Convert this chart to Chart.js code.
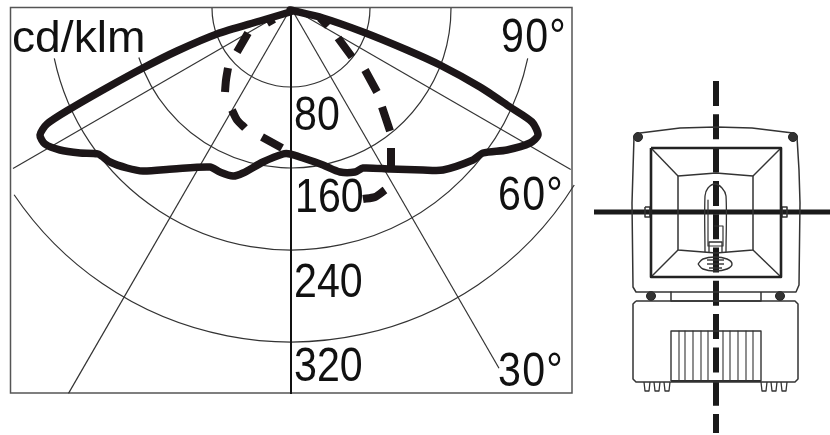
<!DOCTYPE html>
<html>
<head>
<meta charset="utf-8">
<title>cd/klm</title>
<script src="https://cdn.jsdelivr.net/npm/chart.js@4/dist/chart.umd.min.js"></script>
<style>
  html, body { margin: 0; padding: 0; background: #fff; }
  canvas { display: block; }
</style>
</head>
<body>
<canvas id="polarChart" width="830" height="435"></canvas>
<script>
// values, lamp at 0,0, y grows downwards
const solidX = [-1,-31,-74,-114,-148,-181,-221,-244,-251,-246,-231,-211,-193,-181,-164,-148,-118,-81,-71,-58,-48,-28,-8,-1,12,32,49,64,72,99,132,152,182,192,216,239,247,241,219,189,149,116,72,32,-1];
const solidY = [4,13,26,43,60,78,101,116,127,136,142,145,146,154,160,163,161,159,164,168,165,154,146,146,150,157,164,164,160,161,162,162,152,145,142,135,127,114,99,79,57,42,24,10,2];

// dashed curve, null = gap between two dashes
const dashedX = [-24,-17,null,-43,-54,null,-63,-65,-66,null,-59,-54,-46,null,-29,-9,null,29,37,null,47,61,null,74,86,null,91,99,null,100,100,null,94,84,72];
const dashedY = [15,11,null,25,44,null,60,72,84,null,102,112,120,null,129,140,null,10,18,null,30,49,null,62,84,null,99,123,null,140,159,null,182,189,191];

const ringRadii = [79, 160, 242, 334];
const ringStart = [180, 162, 168, 146];  // degrees, 0 = right, measured downwards
const ringEnd = [0, 0, 12, 32];
const rayAngles = [-60, -30, 0, 30, 60];  // from straight down
const rayLengths = [321, 445, 386, 416, 323];

const labelTexts = ['80', '160', '240', '320', '90°', '60°', '30°'];
const labelX = [294, 295, 294, 294, 501, 498, 498];
const labelY = [130, 212, 297, 381, 52, 210, 386];

// luminaire drawing, picture coordinates
const housing = [[640,133],[680,128],[716,127],[752,128],[793,133],[797,137],[799,170],[800,203],[799,285],[796,292],[636,292],[633,287],[632,203],[633,170],[634,137],[640,133]];
const reflector = [[651,148],[781,148],[781,277],[651,277],[651,148]];
const inner = [[678,176],[716,173],[753,176],[753,250],[716,253],[678,250],[678,176]];
const diagA = [[651,148],[678,176]];
const diagB = [[781,148],[753,176]];
const diagC = [[651,277],[678,250]];
const diagD = [[781,277],[753,250]];
const capsule = [[705,252],[705,196],[708,188],[715,184],[722,188],[726,196],[726,252]];
const burner = [[708,200],[708,246],[723,246],[723,226],[714,226]];
const bulbBase = [[709,252],[709,242],[722,242],[722,252]];
const socket = [[698,264],[703,259],[715,257],[727,259],[732,264],[727,269],[715,271],[703,269],[698,264]];
const coilA = [[707,260],[724,260]];
const coilB = [[707,264],[724,264]];
const coilC = [[709,268],[722,268]];
const tabLeft = [[645,207],[650,207],[650,217],[645,217],[645,207]];
const tabRight = [[782,207],[787,207],[787,217],[782,217],[782,207]];
const neck = [[671,292],[671,301],[761,301],[761,292]];
const box = [[636,301],[795,301],[798,304],[798,379],[795,382],[636,382],[633,379],[633,304],[636,301]];
const fins = [[671,381],[671,331],[761,331],[761,381],[671,381]];
const finLines = [679,685,693,701,708,723,730,738,746,753];
const feet = [647,657,667,764,774,784];
const screws = [[638,137],[793,137],[651,296],[780,296]];
const axisV = [[716,81],[716,433]];
const axisH = [[594,212],[830,212]];

function zip(xs, ys) {
  return xs.map((x, i) => ({ x: x, y: ys[i] }));
}

function picto(points, width, color, tension) {
  return {
    data: points.map(p => ({ x: p[0], y: p[1] })),
    xAxisID: 'px', yAxisID: 'py',
    showLine: true, pointRadius: 0,
    borderColor: color || '#333', borderWidth: width,
    borderJoinStyle: 'round', tension: tension || 0
  };
}

const pictoSets = [
  picto(housing, 1.5), picto(reflector, 2.6, '#222'), picto(inner, 1.5),
  picto(diagA, 1.4), picto(diagB, 1.4), picto(diagC, 1.4), picto(diagD, 1.4),
  picto(capsule, 1.3, '#333', 0.3), picto(burner, 1.2), picto(bulbBase, 1.3),
  picto(socket, 1.4, '#333', 0.4), picto(coilA, 1.4), picto(coilB, 1.4), picto(coilC, 1.4),
  picto(tabLeft, 1.5), picto(tabRight, 1.5),
  picto(neck, 1.5), picto(box, 1.5), picto(fins, 1.4)
];
finLines.forEach(x => pictoSets.push(picto([[x,331],[x,381]], 1.1)));
feet.forEach(x => pictoSets.push(picto([[x-3,382],[x-2,391],[x+2,391],[x+3,382]], 1.3)));
pictoSets.push(picto([[671,381],[761,381]], 2.2, '#222'));

const screwSet = {
  data: screws.map(p => ({ x: p[0], y: p[1] })),
  xAxisID: 'px', yAxisID: 'py',
  showLine: false, pointRadius: 4.5, pointBackgroundColor: '#333', pointBorderColor: '#222'
};

const axisVSet = picto(axisV, 6, '#1a1a1a');
axisVSet.borderDash = [25, 8.3];
axisVSet.borderCapStyle = 'butt';
const axisHSet = picto(axisH, 5, '#1a1a1a');

// frame, rings and rays sit behind the curves
const gridPlugin = {
  id: 'polarGrid',
  beforeDatasetsDraw(chart) {
    const ctx = chart.ctx;
    const xs = chart.scales.x, ys = chart.scales.y;
    const cx = xs.getPixelForValue(0), cy = ys.getPixelForValue(0);
    ctx.save();
    ctx.strokeStyle = '#555';
    ctx.lineWidth = 1.5;
    ctx.strokeRect(xs.getPixelForValue(-280.5), ys.getPixelForValue(0) - 0.5, 561.5, 385.5);

    ctx.strokeStyle = '#333';
    ctx.lineWidth = 1.2;
    ringRadii.forEach((r, i) => {
      const rad = xs.getPixelForValue(r) - cx;
      ctx.beginPath();
      ctx.arc(cx, cy, rad, ringStart[i] * Math.PI / 180, ringEnd[i] * Math.PI / 180, true);
      ctx.stroke();
    });
    rayAngles.forEach((a, i) => {
      const t = a * Math.PI / 180;
      ctx.beginPath();
      ctx.moveTo(cx, cy);
      ctx.lineTo(xs.getPixelForValue(rayLengths[i] * Math.sin(t)), ys.getPixelForValue(rayLengths[i] * Math.cos(t)));
      ctx.lineWidth = a === 0 ? 2 : 1.2;
      ctx.strokeStyle = a === 0 ? '#111' : '#333';
      ctx.stroke();
    });
    ctx.restore();
  },
  afterDatasetsDraw(chart) {
    const ctx = chart.ctx;
    ctx.save();
    ctx.fillStyle = '#111';
    ctx.textBaseline = 'alphabetic';
    ctx.textAlign = 'left';
    ctx.font = '44px "Liberation Sans"';
    ctx.save();
    ctx.translate(12, 52);
    ctx.scale(1.05, 1);
    ctx.fillText('cd/klm', 0, 0);
    ctx.restore();
    ctx.font = '49px "Liberation Sans"';
    labelTexts.forEach((t, i) => {
      ctx.save();
      ctx.translate(labelX[i], labelY[i]);
      ctx.scale(0.84, 1);
      ctx.letterSpacing = t.endsWith('°') ? '1.5px' : '0px';
      ctx.fillText(t, 0, 0);
      ctx.restore();
    });
    ctx.restore();
  }
};

const ctx = document.getElementById('polarChart').getContext('2d');
const polarChart = new Chart(ctx, {
  type: 'scatter',
  data: {
    datasets: [
      {
        label: 'C0',
        data: zip(solidX, solidY),
        showLine: true, pointRadius: 0,
        borderColor: '#1c1618', borderWidth: 7.5,
        borderJoinStyle: 'round', borderCapStyle: 'round',
        tension: 0.25
      },
      {
        label: 'C90',
        data: zip(dashedX, dashedY),
        showLine: true, pointRadius: 0,
        borderColor: '#1c1618', borderWidth: 8,
        borderCapStyle: 'butt',
        tension: 0.25, spanGaps: false
      },
      ...pictoSets,
      screwSet,
      axisVSet,
      axisHSet
    ]
  },
  options: {
    responsive: false,  // fixed size picture
    animation: false,
    devicePixelRatio: 1,
    layout: { padding: 0, autoPadding: false },
    plugins: { legend: { display: false }, tooltip: { enabled: false } },
    scales: {
      x: { type: 'linear', display: false, min: -291, max: 539 },
      y: { type: 'linear', display: false, min: -8, max: 427, reverse: true },
      px: { type: 'linear', display: false, axis: 'x', min: 0, max: 830 },
      py: { type: 'linear', display: false, axis: 'y', min: 0, max: 435, reverse: true }
    }
  },
  plugins: [gridPlugin]
});
</script>
</body>
</html>
